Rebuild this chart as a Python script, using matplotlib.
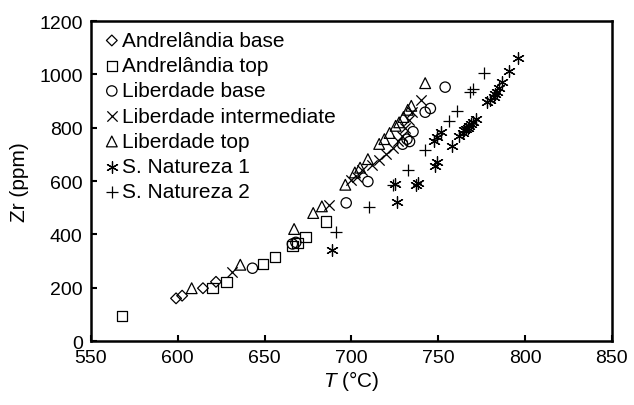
import matplotlib
matplotlib.use("Agg")
import matplotlib.pyplot as plt

plt.rcParams['font.family'] = ['Liberation Sans', 'DejaVu Sans']
plt.rcParams['mathtext.fontset'] = 'custom'
plt.rcParams['mathtext.it'] = 'Liberation Sans:italic'

# Andrelandia base
ab_t = [599, 602.5, 614.5, 622]
ab_zr = [160, 170, 198, 222]

# Andrelandia top
at_t = [568, 620, 628, 649, 656, 666, 669, 673.5, 685.5]
at_zr = [95, 198, 222, 288, 316, 355, 367, 390, 448]

# Liberdade base
lb_t = [643, 666, 668, 697, 709.5, 729.5, 732, 735.5, 733.5, 742.5, 745.5, 754]
lb_zr = [273, 364, 370, 518, 598, 738, 757, 785, 748, 858, 872, 952]

# Liberdade intermediate
li_t = [631, 687, 700, 703, 706, 712, 716, 720, 724, 727, 729, 731, 733, 735, 740]
li_zr = [258, 510, 605, 615, 640, 660, 680, 700, 725, 750, 770, 800, 830, 860, 902]

# Liberdade top
lt_t = [608, 636, 667, 678, 683, 696.5, 702, 705, 709.5, 716, 719, 722, 725.5, 727.5,
        730, 732.5, 734.5, 742.5]
lt_zr = [198, 286, 420, 480, 505, 586, 632, 650, 682, 739, 757, 780, 807, 820,
         840, 867, 882, 967]

# S. Natureza 1
sn1_t = [689, 725, 726.5, 737, 738.5, 748, 749.5, 747.5, 749.5, 751.5, 758,
         762, 764, 765, 766, 767, 768, 769, 770, 771.5,
         778, 780, 782, 783, 784, 785, 787, 791, 796]
sn1_zr = [340, 588, 522, 585, 592, 657, 670, 751, 764, 785, 730,
          770, 780, 790, 795, 800, 805, 815, 820, 832,
          895, 905, 915, 925, 935, 950, 970, 1011, 1060]

# S. Natureza 2
sn2_t = [691, 710, 724, 732.5, 742.5, 756.5, 761, 768.5, 770, 776.5]
sn2_zr = [408, 501, 585, 641, 717, 826, 864, 933, 945, 1005]

fig = plt.figure(figsize=(6.34, 4.06), dpi=100)
ax = fig.add_axes([0.1435, 0.1576, 0.8215, 0.7882])

kw = dict(facecolors='none', edgecolors='black', linewidths=0.9)
ax.scatter(ab_t, ab_zr, marker='D', s=30, label='Andrelândia base', **kw)
ax.scatter(at_t, at_zr, marker='s', s=55, label='Andrelândia top', **kw)
ax.scatter(lb_t, lb_zr, marker='o', s=55, label='Liberdade base', **kw)
ax.scatter(li_t, li_zr, marker='x', s=55, c='black', linewidths=0.9,
           label='Liberdade intermediate')
ax.scatter(lt_t, lt_zr, marker='^', s=60, label='Liberdade top', **kw)
ax.scatter(sn1_t, sn1_zr, marker=(6, 2, 0), s=70, c='black', linewidths=0.9,
           label='S. Natureza 1')
ax.scatter(sn2_t, sn2_zr, marker='+', s=70, c='black', linewidths=0.9,
           label='S. Natureza 2')

ax.set_xlim(550, 850)
ax.set_ylim(0, 1200)
ax.set_xticks(range(550, 851, 50))
ax.set_yticks(range(0, 1201, 200))
ax.tick_params(direction='in', length=4, width=1.5, labelsize=14, pad=6)
for sp in ax.spines.values():
    sp.set_linewidth(1.8)

ax.set_xlabel('$T$ (°C)', fontsize=15, labelpad=1)
ax.set_ylabel('Zr (ppm)', fontsize=15, labelpad=7)

ax.legend(loc='upper left', bbox_to_anchor=(0.026, 0.969), frameon=False,
          fontsize=15, handlelength=0.7, handletextpad=0.15, labelspacing=0.30,
          borderaxespad=0, borderpad=0, scatterpoints=1)

fig.savefig('out.png', dpi=100)
